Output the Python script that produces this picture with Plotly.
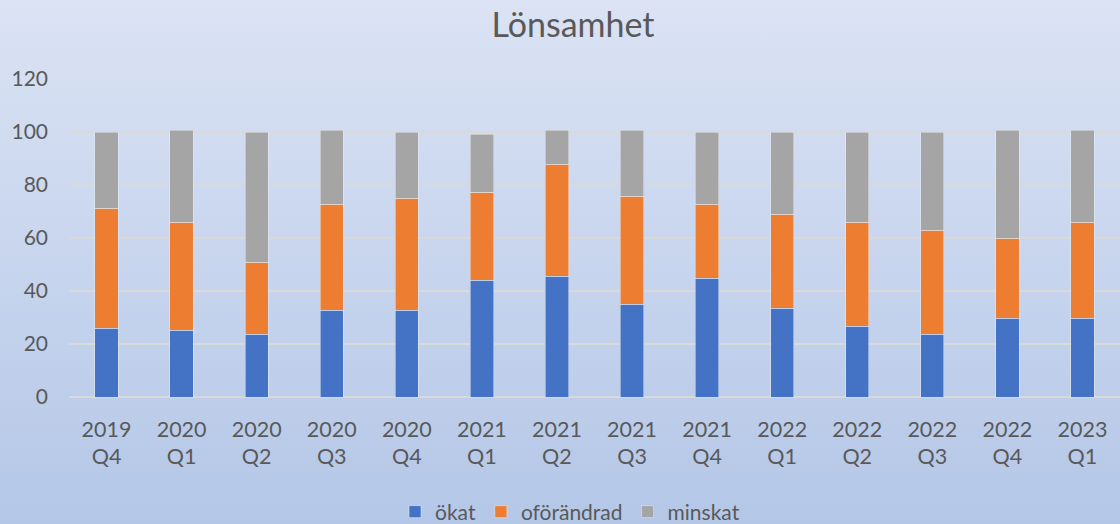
import base64
import plotly.graph_objects as go

categories = ["2019<br>Q4", "2020<br>Q1", "2020<br>Q2", "2020<br>Q3", "2020<br>Q4",
              "2021<br>Q1", "2021<br>Q2", "2021<br>Q3", "2021<br>Q4",
              "2022<br>Q1", "2022<br>Q2", "2022<br>Q3", "2022<br>Q4", "2023<br>Q1"]
okat = [25.9, 25.2, 23.6, 32.7, 32.7, 44.0, 45.5, 35.0, 44.8, 33.5, 26.7, 23.6, 29.7, 29.7]
oforandrad = [45.3, 40.7, 27.2, 40.0, 42.3, 33.2, 42.3, 40.7, 27.9, 35.4, 39.2, 39.3, 30.2, 36.2]
minskat = [28.7, 34.7, 49.1, 27.9, 24.9, 21.9, 12.8, 24.9, 27.2, 31.0, 34.0, 37.0, 40.7, 34.7]
y_ticks = [0, 20, 40, 60, 80, 100, 120]

W, H = 1120, 524
ML, MR, MT, MB = 69, 0, 79, 127
PW, PH = W - ML - MR, H - MT - MB

FONT = "Lato, 'Open Sans', sans-serif"
TXT = "#595959"

svg = ('<svg xmlns="http://www.w3.org/2000/svg" width="100" height="100" preserveAspectRatio="none">'
       '<defs><linearGradient id="g" x1="0" y1="0" x2="0" y2="1">'
       '<stop offset="0" stop-color="#dbe3f4"/><stop offset="1" stop-color="#b4c7e7"/>'
       '</linearGradient></defs><rect width="100" height="100" fill="url(#g)"/></svg>')
bg_src = "data:image/svg+xml;base64," + base64.b64encode(svg.encode()).decode()

fig = go.Figure()
fig.add_trace(go.Bar(name="ökat", x=categories, y=okat, marker_color="#4472c4"))
fig.add_trace(go.Bar(name="oförändrad", x=categories, y=oforandrad, marker_color="#ed7d31"))
fig.add_trace(go.Bar(name="minskat", x=categories, y=minskat, marker_color="#a5a5a5"))

fig.update_layout(
    width=W, height=H,
    barmode="stack", bargap=0.69,
    margin=dict(l=ML, r=MR, t=MT, b=MB, autoexpand=False),
    paper_bgcolor="#c8d5ee",
    plot_bgcolor="rgba(0,0,0,0)",
    font=dict(family=FONT, color=TXT, size=20),
    title=dict(text="Lönsamhet", x=573 / W, xref="container", xanchor="center",
               y=1 - 25 / H, yref="container", yanchor="middle",
               font=dict(size=34, color=TXT, family=FONT)),
    legend=dict(orientation="h", x=570 / W, xref="container", xanchor="center",
                y=12 / H, yref="container", yanchor="middle",
                font=dict(size=21, color=TXT), bgcolor="rgba(0,0,0,0)",
                traceorder="normal"),
    images=[dict(source=bg_src, xref="paper", yref="paper",
                 x=-ML / PW, y=1 + MT / PH, sizex=W / PW, sizey=H / PH,
                 xanchor="left", yanchor="top", sizing="stretch", layer="below")],
    xaxis=dict(showgrid=False, showline=False, ticks="", tickfont=dict(size=21.5, color=TXT),
               ticklabelstandoff=17, fixedrange=True),
    yaxis=dict(range=[0, 120], tickvals=y_ticks, showgrid=True, gridcolor="#d9d9d9",
               gridwidth=1.5, zeroline=True, zerolinecolor="#d9d9d9", zerolinewidth=1.5,
               showline=False, ticks="", tickfont=dict(size=21, color=TXT),
               ticklabelstandoff=20, fixedrange=True),
)

fig.write_html("out.html", config={"displayModeBar": False},
               post_script="document.body.style.margin='0';document.body.style.overflow='hidden';")
